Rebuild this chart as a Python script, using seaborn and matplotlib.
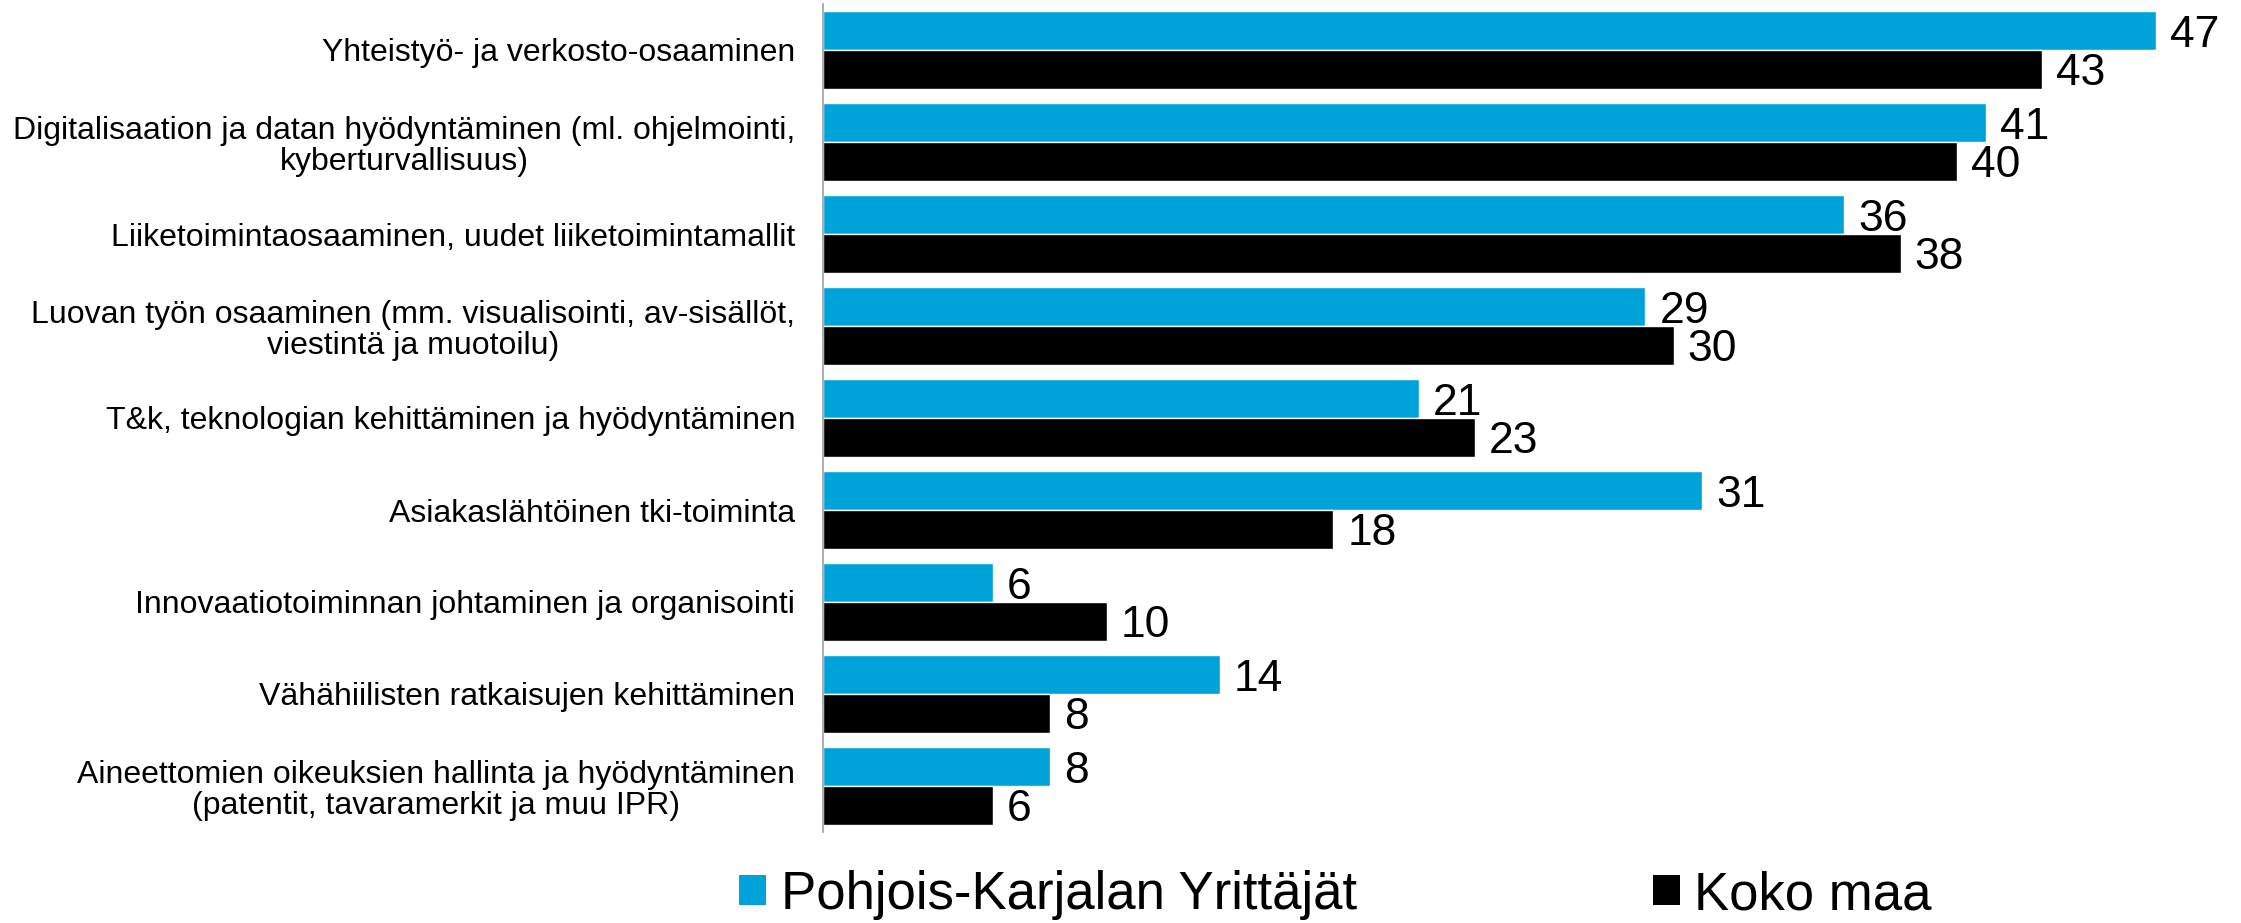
import matplotlib
matplotlib.use("Agg")
import matplotlib.pyplot as plt
import seaborn as sns
import pandas as pd
from matplotlib.patches import Patch

categories = [
    "Yhteistyö- ja verkosto-osaaminen",
    "Digitalisaation ja datan hyödyntäminen (ml. ohjelmointi,\nkyberturvallisuus)",
    "Liiketoimintaosaaminen, uudet liiketoimintamallit",
    "Luovan työn osaaminen (mm. visualisointi, av-sisällöt,\nviestintä ja muotoilu)",
    "T&k, teknologian kehittäminen ja hyödyntäminen",
    "Asiakaslähtöinen tki-toiminta",
    "Innovaatiotoiminnan johtaminen ja organisointi",
    "Vähähiilisten ratkaisujen kehittäminen",
    "Aineettomien oikeuksien hallinta ja hyödyntäminen\n(patentit, tavaramerkit ja muu IPR)",
]
series_names = ["Pohjois-Karjalan Yrittäjät", "Koko maa"]
pk_values = [47, 41, 36, 29, 21, 31, 6, 14, 8]
koko_values = [43, 40, 38, 30, 23, 18, 10, 8, 6]
colors = ["#00A3D9", "#000000"]

df = pd.DataFrame({
    "kategoria": categories * 2,
    "arvo": pk_values + koko_values,
    "sarja": [series_names[0]] * len(categories) + [series_names[1]] * len(categories),
})

sns.set_theme(style="white")
plt.rcParams["font.family"] = ["Liberation Sans", "DejaVu Sans"]
plt.rcParams["text.color"] = "black"
plt.rcParams["ytick.labelcolor"] = "black"

fig = plt.figure(figsize=(22.41, 9.23), dpi=100)
ax = fig.add_axes([823 / 2241, 1 - 832 / 923, 1 - 823 / 2241, (832 - 4) / 923])

sns.barplot(data=df, y="kategoria", x="arvo", hue="sarja", order=categories,
            hue_order=series_names, palette=colors, width=0.84, orient="h",
            ax=ax, saturation=1, errorbar=None, legend=False)

for cont in ax.containers:
    labels = ax.bar_label(cont, padding=10, fontsize=32, color="black")
    for t in labels:
        t.set_verticalalignment("center_baseline")

ax.set_xlim(0, 50)
ax.set_ylim(8.5, -0.5)
ax.set_xlabel("")
ax.set_ylabel("")
ax.set_xticks([])
ax.tick_params(axis="y", length=0, pad=20, labelsize=23, labelcolor="black")
for lbl in ax.get_yticklabels():
    lbl.set_multialignment("center")
    lbl.set_linespacing(1.05)
for s in ["top", "right", "bottom"]:
    ax.spines[s].set_visible(False)
ax.spines["left"].set_color("#A0A0A0")
ax.spines["left"].set_linewidth(1.2)

handles = [Patch(facecolor=c, edgecolor="none") for c in colors]
fig.legend(handles, series_names, loc="center", ncol=2,
           bbox_to_anchor=(1335.5 / 2241, 1 - 895 / 923), frameon=False,
           fontsize=38, handlelength=0.51, handleheight=0.51, handletextpad=0.28,
           columnspacing=5.6, borderpad=0, borderaxespad=0, labelcolor="black")

fig.savefig("out.png", dpi=100)
